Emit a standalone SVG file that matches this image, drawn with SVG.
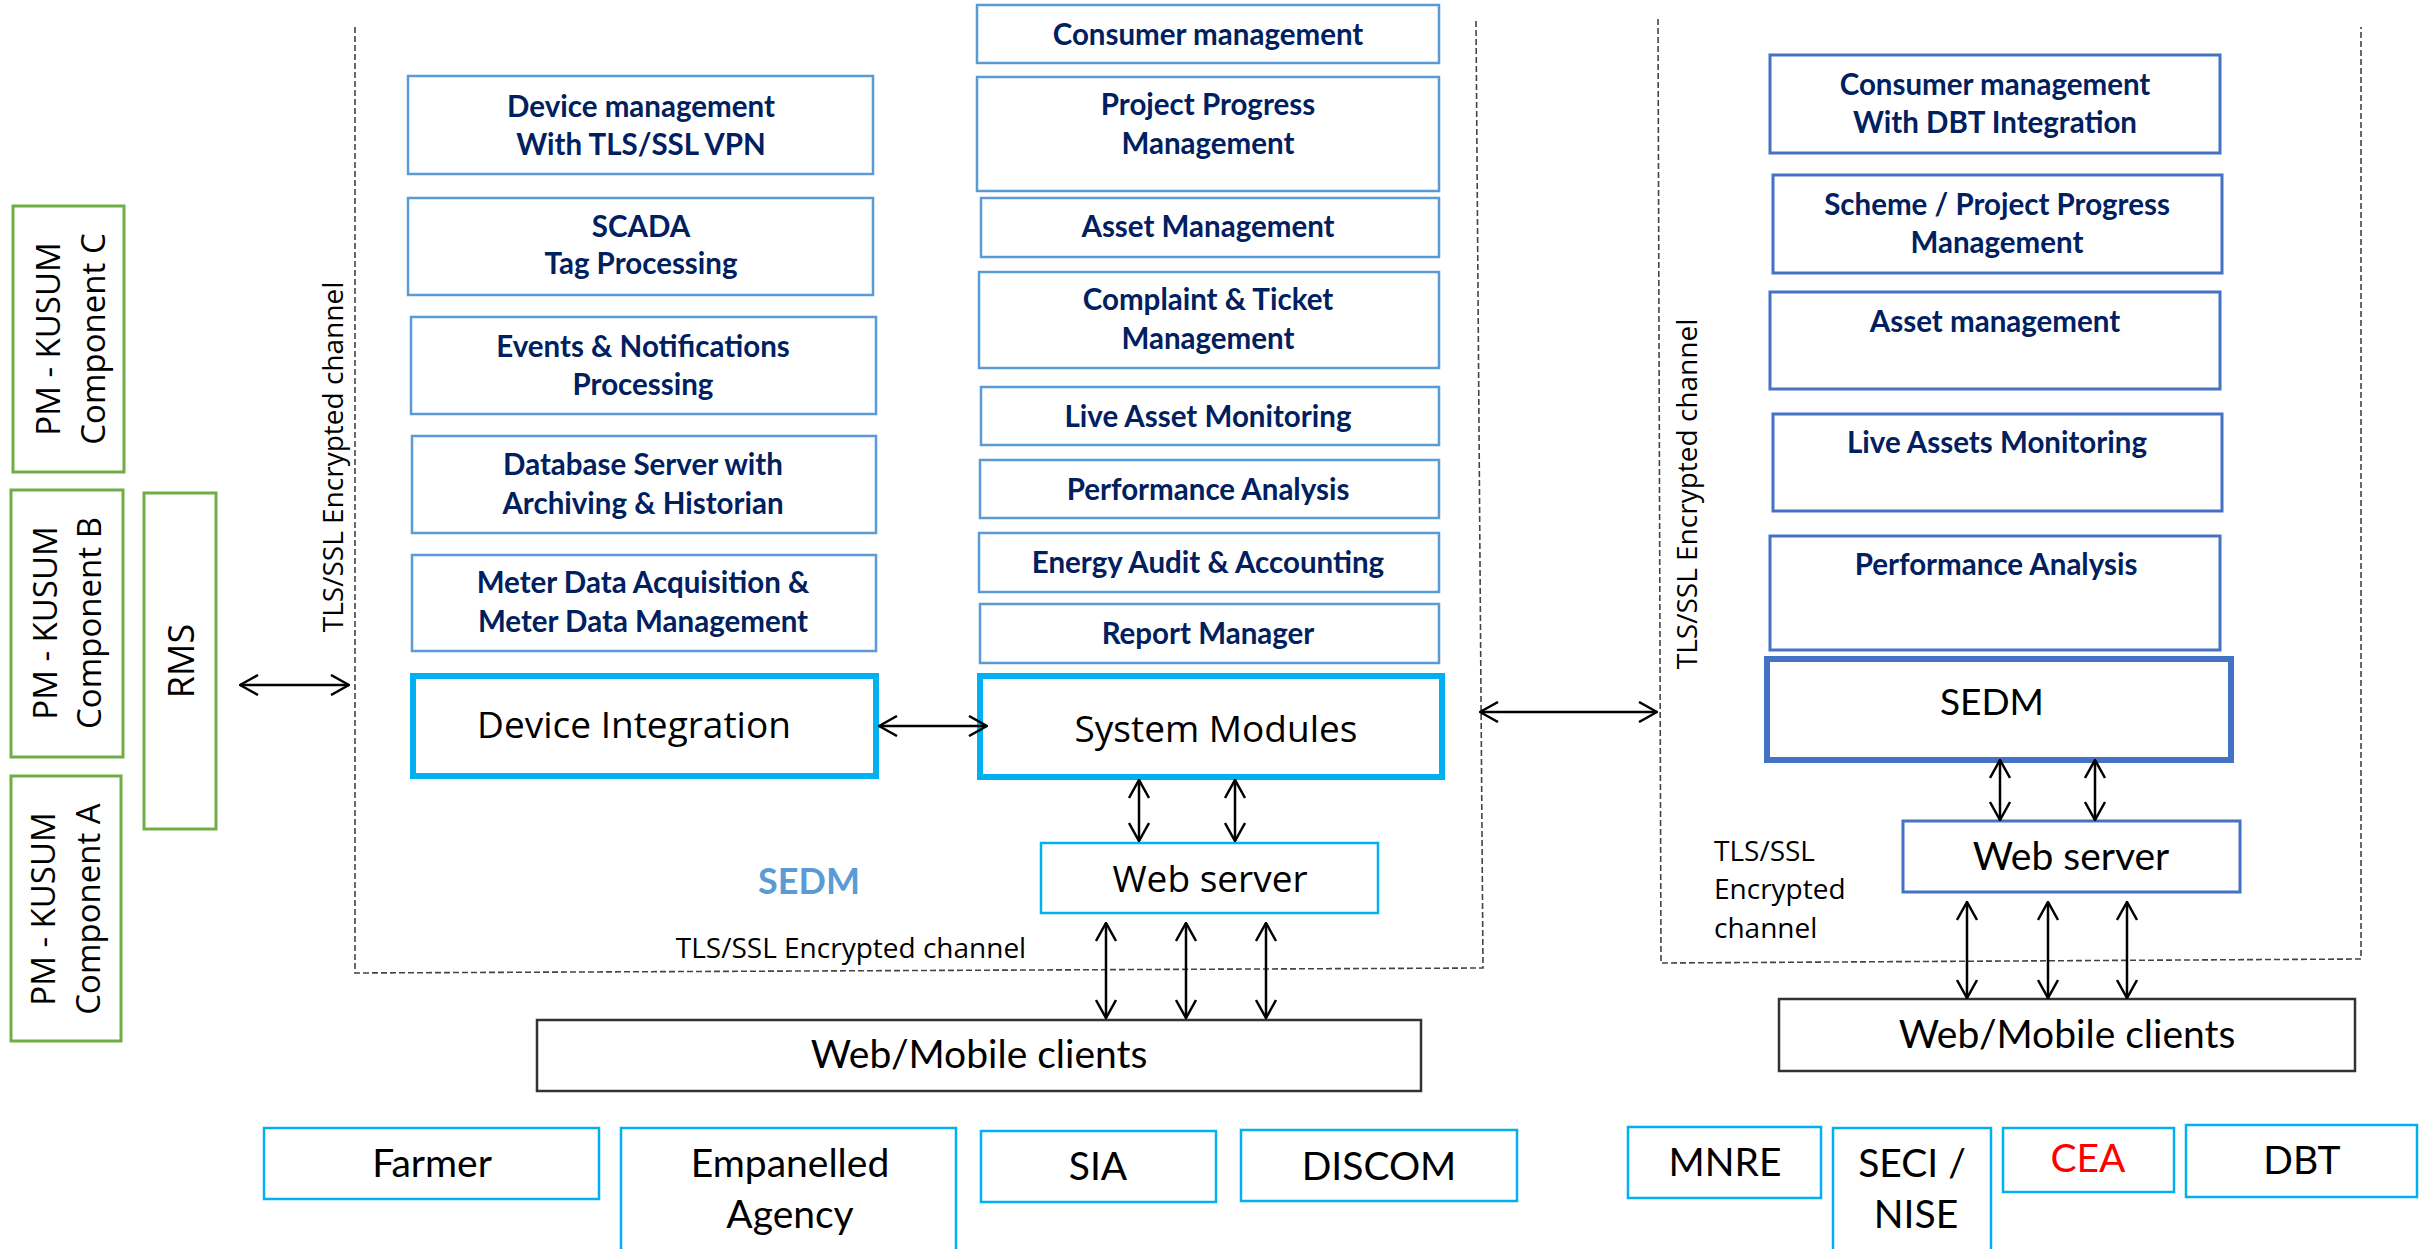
<svg xmlns="http://www.w3.org/2000/svg" width="2433" height="1249" viewBox="0 0 2433 1249">
<defs>
<style>
.grn{fill:none;stroke:#70AD47;stroke-width:3}
.mod{fill:#fff;stroke:#5B9BD5;stroke-width:2.5}
.rmod{fill:#fff;stroke:#4472C4;stroke-width:3}
.thick{fill:#fff;stroke:#00B0F0;stroke-width:6}
.rthick{fill:#fff;stroke:#4472C4;stroke-width:6}
.cy{fill:#fff;stroke:#00B0F0;stroke-width:2.5}
.cli{fill:#fff;stroke:#333;stroke-width:2.5}
.dash{fill:none;stroke:#444;stroke-width:1.6;stroke-dasharray:6 3}
.nv{font-family:Lato,'Liberation Sans',sans-serif;font-weight:bold;font-size:29.5px;fill:#002060;text-anchor:middle}
.os{font-family:'Open Sans','Liberation Sans',sans-serif;fill:#000;text-anchor:middle}
.lt{font-family:Lato,'Liberation Sans',sans-serif;fill:#000;text-anchor:middle;font-size:39px}
.arr{stroke:#000;stroke-width:2.5;fill:none;marker-start:url(#ah);marker-end:url(#ah)}
</style>
<marker id="ah" viewBox="0 0 20 22" refX="19" refY="11" markerWidth="20" markerHeight="22" markerUnits="userSpaceOnUse" orient="auto-start-reverse">
<path d="M1,1 L19,11 L1,21" fill="none" stroke="#000" stroke-width="2.5"/>
</marker>
</defs>
<rect width="2433" height="1249" fill="#fff"/>

<!-- dashed containers -->
<g id="containers">
<path class="dash" d="M355,27 L355,973 L1483,968 L1476,20"/>
<path class="dash" d="M1658,19 L1661,963 L2361,959 L2361,27"/>
</g>

<!-- left PM-KUSUM nodes -->
<g id="pm-c">
<rect class="grn" x="13" y="206" width="111" height="266"/>
<text class="os" font-size="33" transform="translate(60,339) rotate(-90)">PM - KUSUM</text>
<text class="os" font-size="33" transform="translate(105,339) rotate(-90)">Component C</text>
</g>
<g id="pm-b">
<rect class="grn" x="11" y="490" width="112" height="267"/>
<text class="os" font-size="33" transform="translate(57,623) rotate(-90)">PM - KUSUM</text>
<text class="os" font-size="33" transform="translate(101,623) rotate(-90)">Component B</text>
</g>
<g id="pm-a">
<rect class="grn" x="11" y="776" width="110" height="265"/>
<text class="os" font-size="33" transform="translate(55,909) rotate(-90)">PM - KUSUM</text>
<text class="os" font-size="33" transform="translate(100,909) rotate(-90)">Component A</text>
</g>
<g id="rms">
<rect class="grn" x="144" y="493" width="72" height="336"/>
<text class="os" font-size="36" transform="translate(194,661) rotate(-90)">RMS</text>
</g>

<!-- channel labels -->
<g id="labels">
<text class="os" font-size="28" transform="translate(343,457) rotate(-90)">TLS/SSL Encrypted channel</text>
<text class="os" font-size="28" transform="translate(1697,494) rotate(-90)">TLS/SSL Encrypted channel</text>
<text class="os" font-size="28" x="851" y="958">TLS/SSL Encrypted channel</text>
<text class="os" font-size="28" style="text-anchor:start" x="1714" y="861">TLS/SSL</text>
<text class="os" font-size="28" style="text-anchor:start" x="1714" y="899">Encrypted</text>
<text class="os" font-size="28" style="text-anchor:start" x="1714" y="938">channel</text>
<text x="809" y="894" font-family="Lato,'Liberation Sans',sans-serif" font-weight="bold" font-size="36" fill="#5B9BD5" text-anchor="middle">SEDM</text>
</g>

<!-- left module column -->
<g id="device-mgmt"><rect class="mod" x="408" y="76" width="465" height="98"/>
<text class="nv" x="641" y="117">Device management</text><text class="nv" x="641" y="155">With TLS/SSL VPN</text></g>
<g id="scada"><rect class="mod" x="408" y="198" width="465" height="97"/>
<text class="nv" x="641" y="237">SCADA</text><text class="nv" x="641" y="274">Tag Processing</text></g>
<g id="events"><rect class="mod" x="411" y="317" width="465" height="97"/>
<text class="nv" x="643" y="357">Events &amp; Notifications</text><text class="nv" x="643" y="395">Processing</text></g>
<g id="database"><rect class="mod" x="412" y="436" width="464" height="97"/>
<text class="nv" x="643" y="475">Database Server with</text><text class="nv" x="643" y="514">Archiving &amp; Historian</text></g>
<g id="meter"><rect class="mod" x="412" y="555" width="464" height="96"/>
<text class="nv" x="643" y="593">Meter Data Acquisition &amp;</text><text class="nv" x="643" y="632">Meter Data Management</text></g>
<g id="device-integration"><rect class="thick" x="413" y="676" width="463" height="100"/>
<text class="os" font-size="37" x="634" y="738">Device Integration</text></g>

<!-- middle module column -->
<g id="consumer"><rect class="mod" x="977" y="5" width="462" height="58"/>
<text class="nv" x="1208" y="45">Consumer management</text></g>
<g id="project"><rect class="mod" x="977" y="77" width="462" height="114"/>
<text class="nv" x="1208" y="115">Project Progress</text><text class="nv" x="1208" y="154">Management</text></g>
<g id="asset"><rect class="mod" x="981" y="198" width="458" height="59"/>
<text class="nv" x="1208" y="237">Asset Management</text></g>
<g id="complaint"><rect class="mod" x="979" y="272" width="460" height="96"/>
<text class="nv" x="1208" y="310">Complaint &amp; Ticket</text><text class="nv" x="1208" y="349">Management</text></g>
<g id="live-asset"><rect class="mod" x="981" y="387" width="458" height="58"/>
<text class="nv" x="1208" y="427">Live Asset Monitoring</text></g>
<g id="performance"><rect class="mod" x="980" y="460" width="459" height="58"/>
<text class="nv" x="1208" y="500">Performance Analysis</text></g>
<g id="energy"><rect class="mod" x="979" y="533" width="460" height="59"/>
<text class="nv" x="1208" y="573">Energy Audit &amp; Accounting</text></g>
<g id="report"><rect class="mod" x="980" y="604" width="459" height="59"/>
<text class="nv" x="1208" y="644">Report Manager</text></g>
<g id="system-modules"><rect class="thick" x="980" y="676" width="462" height="101"/>
<text class="os" font-size="37" x="1216" y="742">System Modules</text></g>
<g id="web-server-left"><rect class="cy" x="1041" y="843" width="337" height="70"/>
<text class="os" font-size="37" x="1210" y="892">Web server</text></g>
<g id="clients-left"><rect class="cli" x="537" y="1020" width="884" height="71"/>
<text class="lt" x="979" y="1068">Web/Mobile clients</text></g>

<!-- right column -->
<g id="r-consumer"><rect class="rmod" x="1770" y="55" width="450" height="98"/>
<text class="nv" x="1995" y="95">Consumer management</text><text class="nv" x="1995" y="133">With DBT Integration</text></g>
<g id="r-scheme"><rect class="rmod" x="1773" y="175" width="449" height="98"/>
<text class="nv" x="1997" y="215">Scheme / Project Progress</text><text class="nv" x="1997" y="253">Management</text></g>
<g id="r-asset"><rect class="rmod" x="1770" y="292" width="450" height="97"/>
<text class="nv" x="1995" y="332">Asset management</text></g>
<g id="r-live"><rect class="rmod" x="1773" y="414" width="449" height="97"/>
<text class="nv" x="1997" y="453">Live Assets Monitoring</text></g>
<g id="r-performance"><rect class="rmod" x="1770" y="536" width="450" height="114"/>
<text class="nv" x="1996" y="575">Performance Analysis</text></g>
<g id="r-sedm"><rect class="rthick" x="1767" y="659" width="464" height="101"/>
<text class="lt" style="font-size:37px" x="1992" y="715">SEDM</text></g>
<g id="r-web-server"><rect class="rmod" x="1903" y="821" width="337" height="71"/>
<text class="lt" x="2071" y="870">Web server</text></g>
<g id="r-clients"><rect class="cli" x="1779" y="999" width="576" height="72"/>
<text class="lt" x="2067" y="1048">Web/Mobile clients</text></g>

<!-- stakeholders -->
<g id="farmer"><rect class="cy" x="264" y="1128" width="335" height="71"/><text class="lt" x="432" y="1177">Farmer</text></g>
<g id="empanelled"><path class="cy" d="M621,1252 V1128 H956 V1252"/><text class="lt" x="790" y="1177">Empanelled</text><text class="lt" x="790" y="1228">Agency</text></g>
<g id="sia"><rect class="cy" x="981" y="1131" width="235" height="71"/><text class="lt" x="1098" y="1180">SIA</text></g>
<g id="discom"><rect class="cy" x="1241" y="1130" width="276" height="71"/><text class="lt" x="1379" y="1180">DISCOM</text></g>
<g id="mnre"><rect class="cy" x="1628" y="1127" width="193" height="71"/><text class="lt" x="1725" y="1176">MNRE</text></g>
<g id="seci"><path class="cy" d="M1833,1252 V1128 H1991 V1252"/><text class="lt" x="1912" y="1177">SECI /</text><text class="lt" x="1916" y="1228">NISE</text></g>
<g id="cea"><rect class="cy" x="2003" y="1128" width="171" height="64"/><text class="lt" x="2088" y="1172" style="fill:#FF0000">CEA</text></g>
<g id="dbt"><rect class="cy" x="2186" y="1125" width="231" height="72"/><text class="lt" x="2302" y="1174">DBT</text></g>

<!-- connectors -->
<g id="connectors">
<line class="arr" x1="240" y1="685" x2="349" y2="685"/>
<line class="arr" x1="879" y1="726" x2="987" y2="726"/>
<line class="arr" x1="1480" y1="712" x2="1657" y2="712"/>
<line class="arr" x1="1139" y1="780" x2="1139" y2="841"/>
<line class="arr" x1="1235" y1="780" x2="1235" y2="841"/>
<line class="arr" x1="1106" y1="923" x2="1106" y2="1018"/>
<line class="arr" x1="1186" y1="923" x2="1186" y2="1018"/>
<line class="arr" x1="1266" y1="923" x2="1266" y2="1018"/>
<line class="arr" x1="2000" y1="760" x2="2000" y2="820"/>
<line class="arr" x1="2095" y1="760" x2="2095" y2="820"/>
<line class="arr" x1="1967" y1="902" x2="1967" y2="998"/>
<line class="arr" x1="2048" y1="902" x2="2048" y2="998"/>
<line class="arr" x1="2127" y1="902" x2="2127" y2="998"/>
</g>
</svg>
